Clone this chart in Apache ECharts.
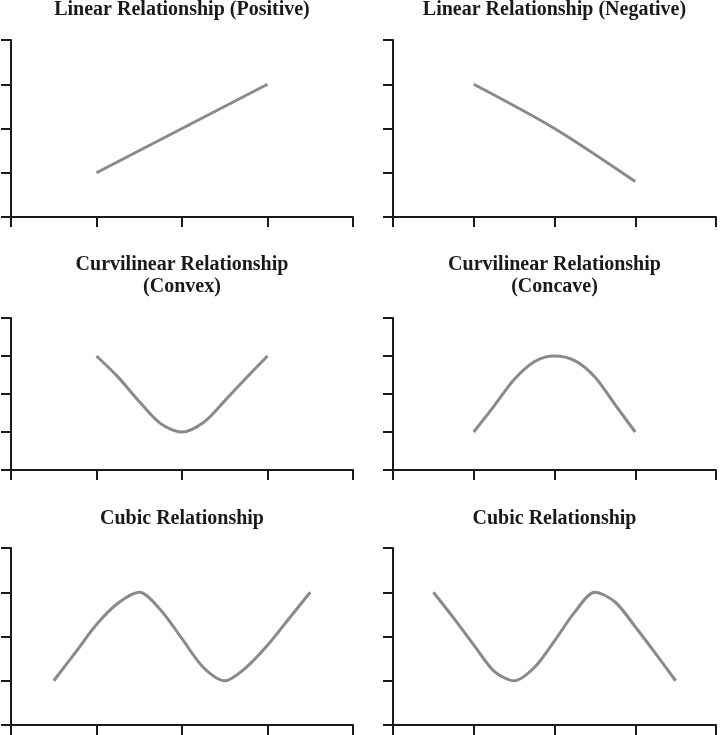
<!DOCTYPE html>
<html>
<head>
<meta charset="utf-8">
<script src="https://cdn.jsdelivr.net/npm/echarts@6/dist/echarts.min.js"></script>
<style>
  html, body { margin: 0; padding: 0; background: #fff; }
  #chart { width: 720px; height: 735px; }
</style>
</head>
<body>
<div id="chart"></div>
<script>
// panel titles
var titles = [
    'Linear Relationship (Positive)',
    'Linear Relationship (Negative)',
    'Curvilinear Relationship\n(Convex)',
    'Curvilinear Relationship\n(Concave)',
    'Cubic Relationship',
    'Cubic Relationship'
];

// x / y values for each panel
var posX = [1, 3];
var posY = [1, 3];

var negX = [1, 2, 3];
var negY = [3, 2, 0.8];

var convexX = [1, 1.25, 1.5, 1.75, 2, 2.25, 2.5, 2.75, 3];
var convexY = [3, 2.45, 1.8, 1.22, 1, 1.25, 1.82, 2.42, 3];

var concaveX = [1, 1.25, 1.5, 1.75, 2, 2.25, 2.5, 2.75, 3];
var concaveY = [1, 1.68, 2.38, 2.85, 3, 2.88, 2.45, 1.72, 1];

var cubicUpX = [0.5, 0.75, 1, 1.25, 1.5, 1.75, 2, 2.25, 2.5, 2.75, 3, 3.25, 3.5];
var cubicUpY = [1, 1.63, 2.27, 2.75, 3, 2.6, 1.95, 1.3, 1, 1.3, 1.8, 2.4, 3];

var cubicDownX = [0.5, 0.75, 1, 1.25, 1.5, 1.75, 2, 2.25, 2.5, 2.75, 3, 3.25, 3.5];
var cubicDownY = [3, 2.42, 1.81, 1.22, 1, 1.3, 1.9, 2.55, 3, 2.78, 2.22, 1.62, 1];

var panelX = [posX, negX, convexX, concaveX, cubicUpX, cubicDownX];
var panelY = [posY, negY, convexY, concaveY, cubicUpY, cubicDownY];

// grid boxes: [left, top, width, height]
var boxes = [
    [11, 40, 342, 177],
    [393, 40, 323, 177],
    [11, 318, 342, 152],
    [393, 318, 323, 152],
    [11, 548, 342, 177],
    [393, 548, 323, 177]
];
var titleTops = [-1, -1, 254, 254, 508, 508];

function zip(xs, ys) {
    var out = [];
    for (var i = 0; i < xs.length; i++) {
        out.push([xs[i], ys[i]]);
    }
    return out;
}

var axisStyle = {
    axisLine: {show: true, lineStyle: {color: '#1a1a1a', width: 2}},
    axisTick: {show: true, inside: false, length: 10, lineStyle: {color: '#1a1a1a', width: 2}},
    axisLabel: {show: false},
    splitLine: {show: false}
};

var option = {
    animation: false,
    backgroundColor: '#fff',
    title: [],
    grid: [],
    xAxis: [],
    yAxis: [],
    series: []
};

for (var i = 0; i < 6; i++) {
    var b = boxes[i];
    option.title.push({
        text: titles[i],
        left: b[0] + b[2] / 2,
        top: titleTops[i],
        textAlign: 'center',
        padding: 0,
        textStyle: {
            fontFamily: 'Liberation Serif',
            fontWeight: 'bold',
            fontSize: 20,
            lineHeight: 22,
            color: '#1a1a1a'
        }
    });
    option.grid.push({left: b[0], top: b[1], width: b[2], height: b[3]});
    option.xAxis.push(Object.assign({type: 'value', gridIndex: i, min: 0, max: 4, interval: 1}, axisStyle));
    option.yAxis.push(Object.assign({type: 'value', gridIndex: i, min: 0, max: 4, interval: 1}, axisStyle));
    option.series.push({
        type: 'line',
        xAxisIndex: i,
        yAxisIndex: i,
        data: zip(panelX[i], panelY[i]),
        smooth: 0.3,
        showSymbol: false,
        lineStyle: {color: '#8a8a8a', width: 3}
    });
}

var myChart = echarts.init(document.getElementById('chart'));
myChart.setOption(option);
</script>
</body>
</html>
